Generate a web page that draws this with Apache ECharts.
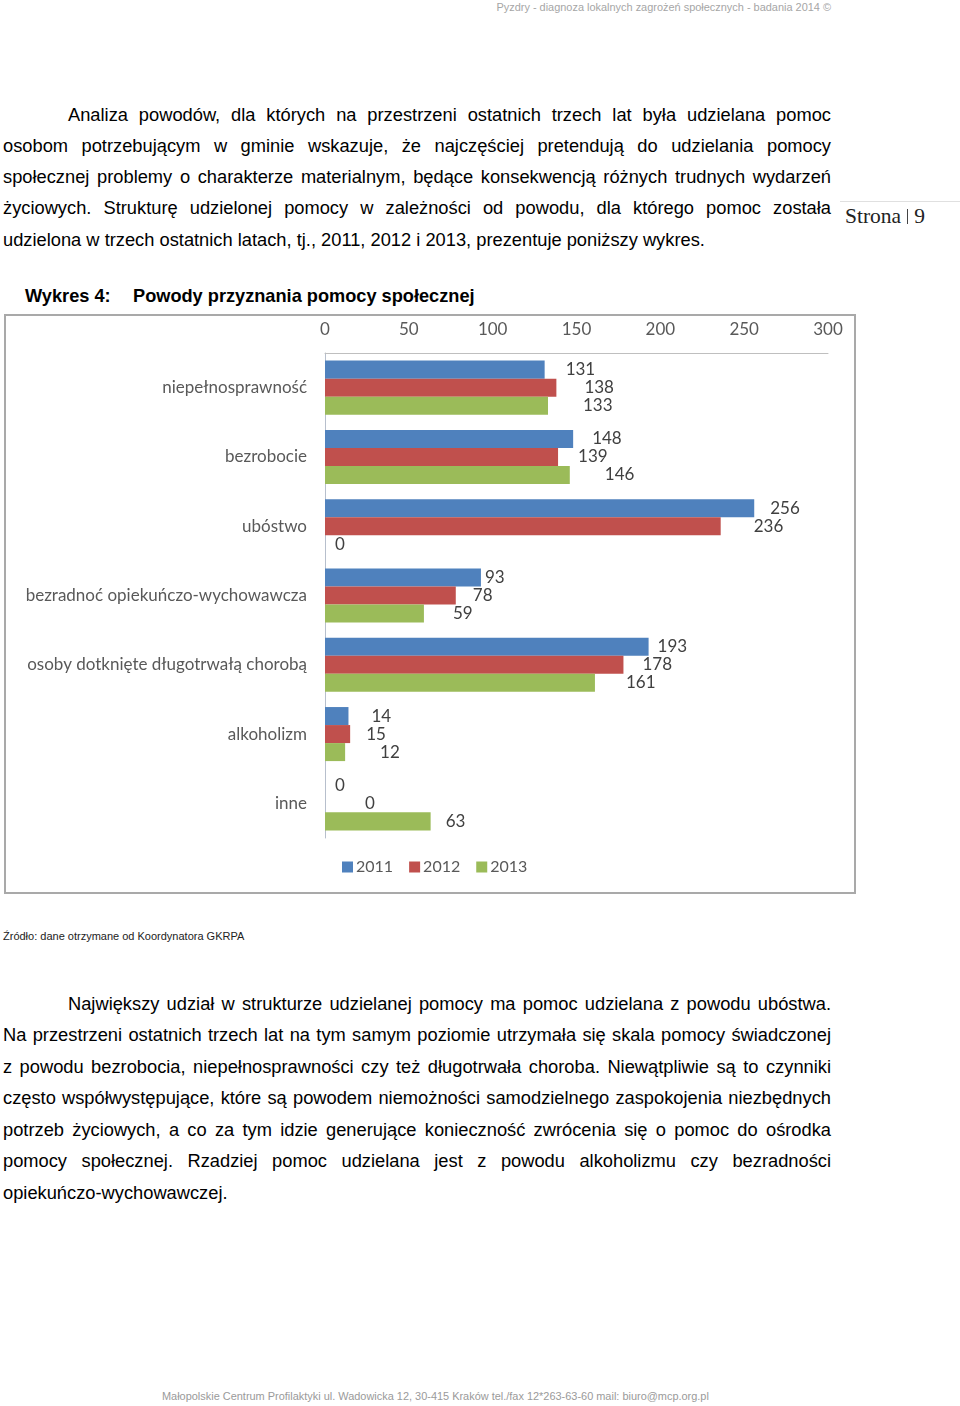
<!DOCTYPE html>
<html>
<head>
<meta charset="utf-8">
<script src="https://cdn.jsdelivr.net/npm/echarts@6/dist/echarts.min.js"></script>
<style>
  html, body { margin: 0; padding: 0; background: #fff; }
  body { width: 960px; height: 1406px; position: relative; overflow: hidden; font-family: "Liberation Sans", Arial, sans-serif; color: #000; }
  .abs { position: absolute; white-space: nowrap; }
  .para { position: absolute; left: 3px; width: 828px; font-size: 18.3px; line-height: 31.3px; }
  .para div { text-align: justify; text-align-last: justify; white-space: nowrap; overflow: visible; }
  .para div.last { text-align-last: left; }
  .para div.ind { padding-left: 65px; }
  #chartBox { position: absolute; left: 4px; top: 314px; width: 852px; height: 580px; border: 2px solid #a9a9a9; box-sizing: border-box; }
  #chart { width: 848px; height: 576px; }
</style>
</head>
<body>
<div class="abs" style="right:129px; top:1px; font-size:10.95px; color:#a6a6a6;">Pyzdry - diagnoza lokalnych zagrożeń społecznych - badania 2014 ©</div>

<div class="para" style="top:98.5px;">
  <div class="ind">Analiza powodów, dla których na przestrzeni ostatnich trzech lat była udzielana pomoc</div>
  <div>osobom potrzebującym w gminie wskazuje, że najczęściej pretendują do udzielania pomocy</div>
  <div>społecznej problemy o charakterze materialnym, będące konsekwencją różnych trudnych wydarzeń</div>
  <div>życiowych. Strukturę udzielonej pomocy w zależności od powodu, dla którego pomoc została</div>
  <div class="last">udzielona w trzech ostatnich latach, tj., 2011, 2012 i 2013, prezentuje poniższy wykres.</div>
</div>

<div class="abs" style="left:840px; top:201px; width:120px; height:1px; background:#e0e0e0;"></div>
<div class="abs" style="left:845px; top:204px; font-family:'Liberation Serif', 'DejaVu Serif', serif; font-size:21.5px; color:#222;">Strona<span style="display:inline-block; width:1px; height:15px; background:#444; margin:0 6px 0 6px; vertical-align:-1px;"></span>9</div>

<div class="abs" style="left:25px; top:286px; font-size:18.2px; font-weight:bold;">Wykres 4:</div>
<div class="abs" style="left:133px; top:286px; font-size:18.2px; font-weight:bold;">Powody przyznania pomocy społecznej</div>

<div id="chartBox"><div id="chart"></div></div>

<div class="abs" style="left:3px; top:930px; font-size:11px; color:#222;">Źródło: dane otrzymane od Koordynatora GKRPA</div>

<div class="para" style="top:987.5px; line-height:31.5px;">
  <div class="ind">Największy udział w strukturze udzielanej pomocy ma pomoc udzielana z powodu ubóstwa.</div>
  <div>Na przestrzeni ostatnich trzech lat na tym samym poziomie utrzymała się skala pomocy świadczonej</div>
  <div>z powodu bezrobocia, niepełnosprawności czy też długotrwała choroba. Niewątpliwie są to czynniki</div>
  <div>często współwystępujące, które są powodem niemożności samodzielnego zaspokojenia niezbędnych</div>
  <div>potrzeb życiowych, a co za tym idzie generujące konieczność zwrócenia się o pomoc do ośrodka</div>
  <div>pomocy społecznej. Rzadziej pomoc udzielana jest z powodu alkoholizmu czy bezradności</div>
  <div class="last">opiekuńczo-wychowawczej.</div>
</div>

<div class="abs" style="left:162px; top:1390px; font-size:10.95px; color:#9a9a9a;">Małopolskie Centrum Profilaktyki ul. Wadowicka 12, 30-415 Kraków tel./fax 12*263-63-60 mail: biuro@mcp.org.pl</div>

<script>
const categories = ['niepełnosprawność', 'bezrobocie', 'ubóstwo', 'bezradnoć opiekuńczo-wychowawcza', 'osoby dotknięte długotrwałą chorobą', 'alkoholizm', 'inne'];
const years = ['2011', '2012', '2013'];
const values2011 = [131, 148, 256, 93, 193, 14, 0];
const values2012 = [138, 139, 236, 78, 178, 15, 0];
const values2013 = [133, 146, 0, 59, 161, 12, 63];
const axisTicks = [0, 50, 100, 150, 200, 250, 300];

// style: gap between each bar end and its data label (as in the original, labels were hand-placed)
const labelGap2011 = [21, 19, 16, 4, 9, 23, 10];
const labelGap2012 = [28, 20, 33, 17, 19, 16, 40];
const labelGap2013 = [35, 35, 10, 29, 31, 35, 15];

const colors = ['#4F81BD', '#C0504D', '#9BBB59'];
const seriesValues = [values2011, values2012, values2013];
const seriesGaps = [labelGap2011, labelGap2012, labelGap2013];
const fontFam = 'Lato, "Open Sans", sans-serif';

const chart = echarts.init(document.getElementById('chart'), null, { renderer: 'canvas' });
chart.setOption({
  animation: false,
  textStyle: { fontFamily: fontFam },
  grid: { left: 319, top: 37, width: 503, height: 485, containLabel: false },
  legend: {
    data: years,
    left: 331, top: 538,
    itemWidth: 11, itemHeight: 11, itemGap: 16,
    icon: 'rect',
    textStyle: { fontFamily: fontFam, fontSize: 16, color: '#595959', padding: [0, 0, 0, -2] }
  },
  xAxis: {
    type: 'value', position: 'top',
    min: axisTicks[0], max: axisTicks[axisTicks.length - 1], interval: axisTicks[1] - axisTicks[0],
    axisLine: { show: true, lineStyle: { color: '#bfbfbf', width: 1 } },
    axisTick: { show: false },
    splitLine: { show: false },
    axisLabel: { margin: 15, fontSize: 17, color: '#595959', fontFamily: fontFam }
  },
  yAxis: {
    type: 'category', data: categories, inverse: true,
    axisLine: { show: true, lineStyle: { color: '#b7bfcc', width: 1 } },
    axisTick: { show: false },
    axisLabel: { margin: 18, fontSize: 17, color: '#595959', fontFamily: fontFam }
  },
  series: years.map((y, i) => ({
    name: y,
    type: 'bar',
    data: seriesValues[i].map((v, j) => ({ value: v, label: { distance: seriesGaps[i][j] } })),
    barGap: '0%',
    barCategoryGap: '22%',
    itemStyle: { color: colors[i] },
    label: {
      show: true, position: 'right',
      fontSize: 17, color: '#404040', fontFamily: fontFam
    }
  }))
});
</script>
</body>
</html>
